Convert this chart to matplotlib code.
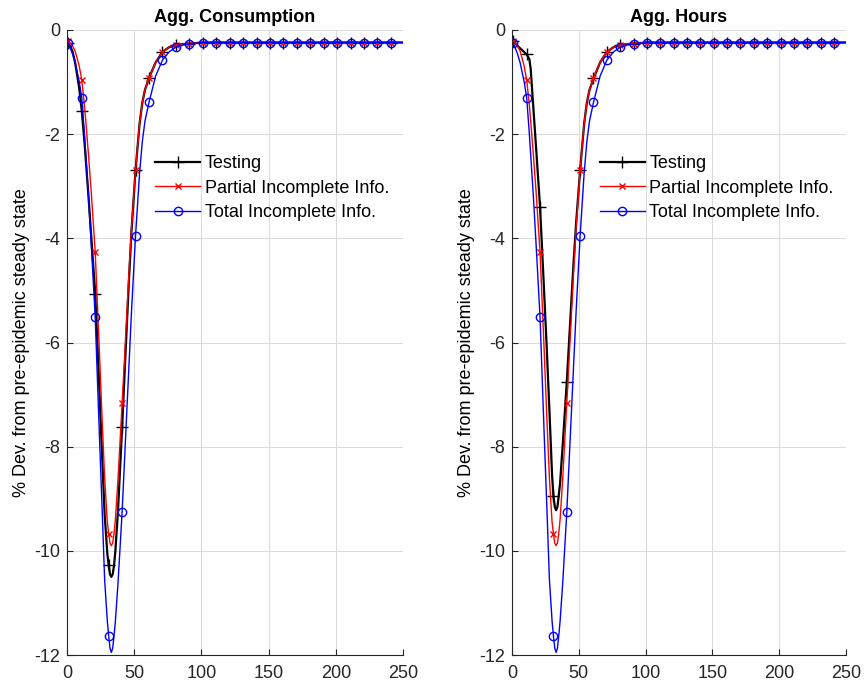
import matplotlib
matplotlib.use('Agg')
import matplotlib.pyplot as plt

plt.rcParams['font.family'] = ['Liberation Sans', 'DejaVu Sans']
plt.rcParams['axes.unicode_minus'] = False

t = [1, 4, 6, 9, 11, 13, 14, 16, 18, 21, 24, 26, 28, 30, 31, 32, 33, 34, 35, 36, 38,
     41, 44, 46, 48, 51, 54, 56, 58, 61, 66, 71, 76, 81, 86, 91,
     101, 111, 121, 131, 141, 151, 161, 171, 181, 191, 201, 211, 221, 231, 241, 250]

tail = [-0.24] * 16

# Agg. Consumption
c_testing = [-0.25, -0.40, -0.62, -1.10, -1.55, -2.15, -2.50, -3.20, -3.95, -5.06, -6.85, -8.10,
             -9.30, -10.05, -10.28, -10.45, -10.50, -10.45, -10.28, -10.00, -9.20,
             -7.63, -5.95, -4.85, -3.85, -2.69, -1.80, -1.40, -1.15, -0.92, -0.62, -0.42,
             -0.33, -0.29, -0.27, -0.26] + tail
c_partial = [-0.22, -0.30, -0.40, -0.68, -0.96, -1.45, -1.75, -2.40, -3.10, -4.27, -6.10, -7.40,
             -8.60, -9.45, -9.67, -9.85, -9.90, -9.85, -9.67, -9.40, -8.60,
             -7.17, -5.70, -4.70, -3.80, -2.69, -1.80, -1.40, -1.15, -0.92, -0.62, -0.42,
             -0.33, -0.29, -0.27, -0.26] + tail
c_total = [-0.25, -0.45, -0.62, -0.98, -1.30, -2.00, -2.40, -3.20, -4.10, -5.52, -7.70, -9.10,
           -10.55, -11.35, -11.63, -11.87, -11.95, -11.87, -11.63, -11.35, -10.60,
           -9.26, -7.60, -6.50, -5.40, -3.95, -2.75, -2.15, -1.75, -1.39, -0.88, -0.58,
           -0.42, -0.33, -0.29, -0.27] + tail

# Agg. Hours
h_testing = [-0.22, -0.30, -0.35, -0.42, -0.47, -0.56, -0.75, -1.50, -2.25, -3.40, -5.00, -6.10,
             -7.30, -8.55, -8.94, -9.15, -9.22, -9.15, -8.94, -8.70, -7.95,
             -6.76, -5.40, -4.50, -3.70, -2.69, -1.80, -1.40, -1.15, -0.93, -0.62, -0.42,
             -0.33, -0.29, -0.27, -0.26] + tail
h_partial = list(c_partial)   # reads the same as consumption
h_total = list(c_total)

labels = ['Testing', 'Partial Incomplete Info.', 'Total Incomplete Info.']
titles = ['Agg. Consumption', 'Agg. Hours']

marks = [i for i, v in enumerate(t) if (v - 1) % 10 == 0]
styles = [
    dict(color='black', marker='+', markersize=8, linewidth=1.6),
    dict(color='red', marker='x', markersize=4.5, linewidth=1.0),
    dict(color='blue', marker='o', markersize=6, linewidth=1.0, markerfacecolor='none'),
]

fig = plt.figure(figsize=(8.65, 6.88), dpi=100)
ax1 = fig.add_axes([67 / 865, 1 - 655 / 688, 336 / 865, 625 / 688])
ax2 = fig.add_axes([512 / 865, 1 - 655 / 688, 334 / 865, 625 / 688])

for ax, series, title in zip([ax1, ax2],
                             [[c_testing, c_partial, c_total], [h_testing, h_partial, h_total]],
                             titles):
    for y, lab, st in zip(series, labels, styles):
        ax.plot(t, y, label=lab, markevery=marks, **st)
    ax.set_xlim(0, 250)
    ax.set_ylim(-12, 0)
    ax.set_xticks([0, 50, 100, 150, 200, 250])
    ax.set_yticks([-12, -10, -8, -6, -4, -2, 0])
    ax.grid(True, color='#dcdcdc', linewidth=0.8)
    ax.set_axisbelow(True)
    ax.tick_params(direction='in', labelsize=13, colors='#262626', length=4, pad=5)
    ax.tick_params(axis='x', pad=7)
    for s in ['top', 'right']:
        ax.spines[s].set_visible(False)
    for s in ['left', 'bottom']:
        ax.spines[s].set_color('#262626')
    ax.set_title(title, fontsize=13, fontweight='bold', pad=6)
    ax.set_ylabel('% Dev. from pre-epidemic steady state', fontsize=13, labelpad=3)
    ax.legend(loc='upper left', bbox_to_anchor=(0.262, 0.80), frameon=False, fontsize=13,
              handlelength=2.5, handletextpad=0.25, labelspacing=0.42, borderaxespad=0,
              borderpad=0)

fig.savefig('out.png', dpi=100)
